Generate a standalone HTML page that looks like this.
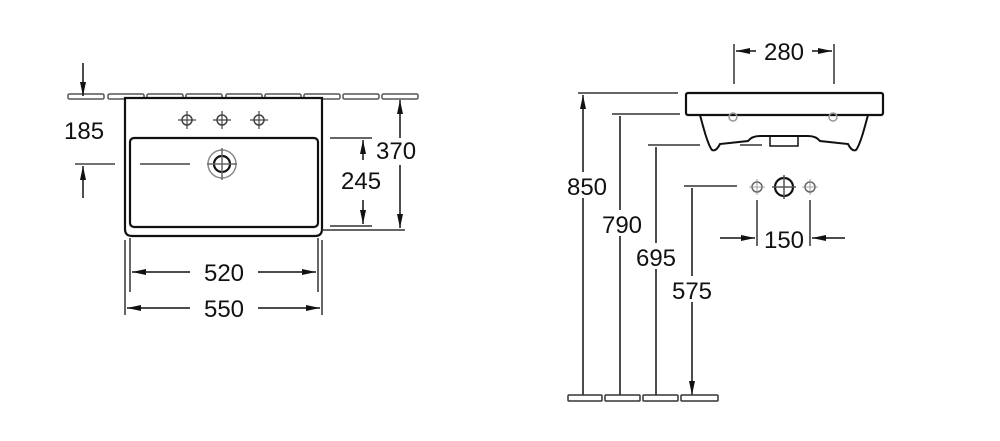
<!DOCTYPE html>
<html><head><style>body{margin:0;background:#fff}svg{display:block}text{font-family:"Liberation Sans",sans-serif;font-size:24px;fill:#111}</style></head><body>
<svg width="1000" height="441" viewBox="0 0 1000 441" xmlns="http://www.w3.org/2000/svg">
<defs>
<marker id="a" viewBox="0 0 14 14" refX="14" refY="7" markerWidth="14" markerHeight="14" markerUnits="userSpaceOnUse" orient="auto-start-reverse"><path d="M0,4 L14,7 L0,10z" fill="#111"/></marker>
<g id="tap"><circle r="5" fill="none" stroke="#444" stroke-width="1.5"/><path d="M-9,0H9M0,-9V9" stroke="#444" stroke-width="1.2"/></g>
</defs>
<g fill="none" stroke="#333" stroke-width="1.5">
<g stroke="#555" stroke-width="1.5">
<rect x="68" y="94" width="36" height="5" rx="1.5"/><rect x="108" y="94" width="36" height="5" rx="1.5"/><rect x="147" y="94" width="36" height="5" rx="1.5"/><rect x="186" y="94" width="36" height="5" rx="1.5"/><rect x="226" y="94" width="36" height="5" rx="1.5"/><rect x="265" y="94" width="36" height="5" rx="1.5"/><rect x="304" y="94" width="36" height="5" rx="1.5"/><rect x="343" y="94" width="36" height="5" rx="1.5"/><rect x="382" y="94" width="36" height="5" rx="1.5"/>
</g>
<path d="M125,98V229q0,7 7,7H315q7,0 7-7V98z" fill="#fff" stroke="#111" stroke-width="2.2"/>
<rect x="130" y="138" width="188" height="89" rx="4" stroke="#111" stroke-width="2.2"/>
<use href="#tap" x="187" y="120"/><use href="#tap" x="222" y="120"/><use href="#tap" x="259" y="120"/>
<circle cx="222" cy="164" r="8" stroke="#111" stroke-width="2.2"/>
<circle cx="222" cy="164" r="14" stroke="#888"/>
<path d="M207,164H237M222,148V180" stroke="#666"/>
<path d="M140,164H190M75,164H115" stroke="#444"/>
<path d="M83,63V96" marker-end="url(#a)" stroke="#111"/>
<path d="M83,198V166" marker-end="url(#a)" stroke="#111"/>
<path d="M330,138H372M330,226H372M322,230H405" />
<path d="M363,140V160" marker-start="url(#a)" stroke="#111"/><path d="M363,200V224" marker-end="url(#a)" stroke="#111"/>
<path d="M400,100V138" marker-start="url(#a)" stroke="#111"/><path d="M400,165V228" marker-end="url(#a)" stroke="#111"/>
<path d="M130,238V292M318,238V292M125,240V315M322,240V315"/>
<path d="M132,272H190" marker-start="url(#a)" stroke="#111"/><path d="M258,272H316" marker-end="url(#a)" stroke="#111"/>
<path d="M127,308H190" marker-start="url(#a)" stroke="#111"/><path d="M258,308H320" marker-end="url(#a)" stroke="#111"/>
<path d="M734,44V84M834,44V84"/>
<path d="M736,51H756" marker-start="url(#a)" stroke="#111"/><path d="M812,51H832" marker-end="url(#a)" stroke="#111"/>
<rect x="686" y="93" width="197" height="22" rx="2" stroke="#111" stroke-width="2.2" fill="#fff"/>
<path d="M700,115C704,130 708,145 712,150Q716,152 720,144L748,141Q752,136 760,136H808Q816,136 820,141L848,144Q852,152 856,150C860,145 864,130 868,115" stroke="#111" stroke-width="2"/>
<rect x="770" y="136" width="28" height="10" stroke="#111" stroke-width="1.5"/>
<circle cx="733" cy="117" r="4" stroke="#999"/><circle cx="833" cy="117" r="4" stroke="#999"/>
<path d="M578,93H678M612,114H680M648,145H700M740,145H762M684,186H737"/>
<path d="M583,95V395M620,116V395M656,147V395M692,188V395" stroke="#111" marker-start="url(#a)" marker-end="url(#a)"/>
<rect x="568" y="395" width="34" height="6" rx="1"/><rect x="605" y="395" width="35" height="6" rx="1"/><rect x="643" y="395" width="35" height="6" rx="1"/><rect x="681" y="395" width="37" height="6" rx="1"/>
<circle cx="757" cy="187" r="5" stroke="#666"/><circle cx="810" cy="187" r="5" stroke="#666"/>
<path d="M749,187H765M757,179V195M802,187H818M810,179V195" stroke="#888" stroke-width="0.8"/>
<circle cx="784" cy="187" r="9" stroke="#111" stroke-width="2.2"/>
<path d="M772,187H796M784,175V199" stroke="#555"/>
<path d="M757,200V246M810,200V246"/>
<path d="M720,238H755" marker-end="url(#a)" stroke="#111"/><path d="M845,238H812" marker-end="url(#a)" stroke="#111"/>
</g>
<g fill="#fff">
<rect x="565" y="172" width="44" height="26"/><rect x="600" y="210" width="44" height="26"/><rect x="634" y="243" width="44" height="26"/><rect x="670" y="276" width="44" height="26"/>
<rect x="372" y="138" width="46" height="26"/><rect x="340" y="168" width="46" height="26"/>
</g>
<text x="64" y="139">185</text>
<text x="376" y="159">370</text>
<text x="341" y="189">245</text>
<text x="224" y="281" text-anchor="middle">520</text>
<text x="224" y="317" text-anchor="middle">550</text>
<text x="784" y="60" text-anchor="middle">280</text>
<text x="587" y="195" text-anchor="middle">850</text>
<text x="622" y="233" text-anchor="middle">790</text>
<text x="656" y="266" text-anchor="middle">695</text>
<text x="692" y="299" text-anchor="middle">575</text>
<text x="784" y="248" text-anchor="middle">150</text>
</svg>
</body></html>
